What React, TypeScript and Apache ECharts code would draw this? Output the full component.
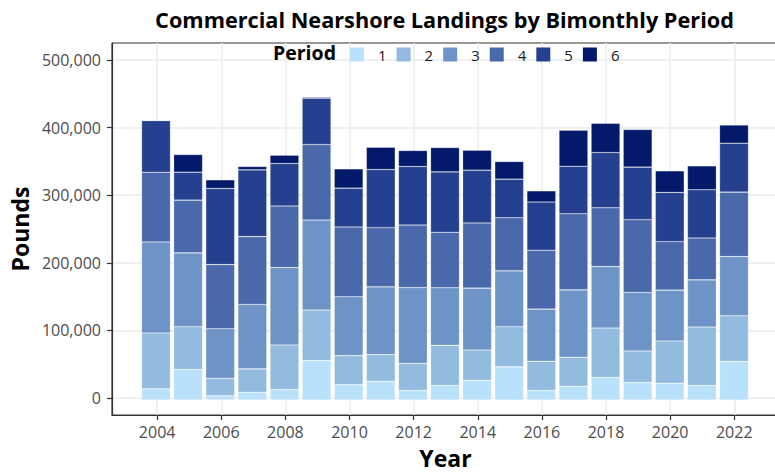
import React, { useEffect, useRef } from "react";
import * as echarts from "echarts";

const years = [2004, 2005, 2006, 2007, 2008, 2009, 2010, 2011, 2012, 2013, 2014, 2015, 2016, 2017, 2018, 2019, 2020, 2021, 2022];
const periods = ["1", "2", "3", "4", "5", "6"];
const period1 = [16.4, 44.7, 6.2, 11.4, 15.4, 57.9, 22.7, 27.6, 13.9, 21.3, 29.0, 48.7, 13.9, 20.2, 33.0, 25.7, 24.6, 21.3, 56.5];
const period2 = [82.1, 63.1, 25.8, 34.3, 65.5, 74.4, 42.6, 39.1, 40.1, 59.1, 44.6, 59.1, 43.0, 42.6, 72.9, 46.4, 62.2, 86.0, 67.4];
const period3 = [133.9, 108.5, 72.8, 94.8, 113.8, 132.4, 86.5, 99.7, 111.4, 84.6, 90.9, 82.1, 76.8, 99.2, 90.3, 86.0, 74.8, 69.4, 87.0];
const period4 = [102.6, 77.7, 94.3, 99.7, 90.5, 111.0, 102.6, 87.0, 91.9, 81.6, 95.8, 78.1, 86.5, 111.9, 86.5, 107.0, 71.2, 61.6, 94.8];
const period5 = [75.9, 41.0, 112.0, 98.2, 62.6, 68.3, 57.2, 85.6, 86.1, 88.9, 77.7, 56.8, 70.9, 69.9, 81.2, 77.3, 72.5, 70.8, 71.9];
const period6 = [1.0, 26.0, 12.7, 5.0, 12.2, 1.5, 28.3, 32.7, 23.5, 35.8, 29.3, 25.9, 16.5, 52.8, 43.0, 55.3, 31.7, 35.2, 26.8];
const periodValues = [period1, period2, period3, period4, period5, period6];
const colors = ["#BAE1FC", "#93BBE0", "#6E93C7", "#4A69AA", "#24408E", "#03196A"];
const xTicks = [2004, 2006, 2008, 2010, 2012, 2014, 2016, 2018, 2020, 2022];
const yTicks = [0, 100000, 200000, 300000, 400000, 500000];

const FONT = "'Open Sans', 'DejaVu Sans', sans-serif";

export default function App() {
  const ref = useRef<HTMLDivElement>(null);
  useEffect(() => {
    if (!ref.current) return;
    const chart = echarts.init(ref.current, null, { renderer: "svg" });
    const series = periods.map((p, i) => ({
      name: p,
      type: "bar",
      stack: "total",
      xAxisIndex: 1,
      yAxisIndex: 1,
      barWidth: "90%",
      data: periodValues[i].map((v) => Math.round(v * 1000)),
      itemStyle: { color: colors[i], borderColor: "rgba(255,255,255,0.35)", borderWidth: 0.6 },
      emphasis: { disabled: true },
    }));
    const yRange = { min: -25000, max: 525000 };
    chart.setOption({
      animation: false,
      textStyle: { fontFamily: FONT },
      title: {
        text: "Commercial Nearshore Landings by Bimonthly Period",
        left: 439.5,
        textAlign: "center",
        top: 3,
        textStyle: { fontFamily: FONT, fontSize: 21.7, fontWeight: "bold", color: "#000" },
      },
      graphic: [
        {
          type: "text",
          left: 273,
          top: 42,
          style: { text: "Period", fontFamily: FONT, fontSize: 19.5, fontWeight: "bold", fill: "#000" },
          z: 10,
        },
      ],
      legend: {
        left: 350,
        top: 47,
        padding: 0,
        itemWidth: 14,
        itemHeight: 14,
        itemGap: 10,
        icon: "rect",
        data: periods,
        selectedMode: false,
        textStyle: { fontFamily: FONT, fontSize: 15, color: "#1A1A1A", padding: [0, 0, 0, 9] },
        itemStyle: { borderWidth: 0 },
      },
      grid: [
        { left: 110.5, right: 0, top: 43, bottom: 57, show: true, borderColor: "#333", borderWidth: 1, backgroundColor: "transparent" },
        { left: 139.945, right: 28.945, top: 43, bottom: 57 },
      ],
      xAxis: [
        {
          type: "value",
          gridIndex: 0,
          min: 2002.59,
          max: 2023.395,
          name: "Year",
          nameLocation: "middle",
          nameGap: 31,
          nameTextStyle: { fontFamily: FONT, fontSize: 23, fontWeight: "bold", color: "#000" },
          axisLine: { show: true, onZero: false, lineStyle: { color: "#333", width: 1.2 } },
          axisTick: { show: true, length: 5, customValues: xTicks, lineStyle: { color: "#333", width: 1.2 } },
          axisLabel: { customValues: xTicks, margin: 9, fontFamily: FONT, fontSize: 16, color: "#4D4D4D", formatter: (v: number) => String(v) },
          splitLine: { show: true, lineStyle: { color: "#EBEBEB", width: 1.5 } },
        },
        {
          type: "category",
          gridIndex: 1,
          data: years.map(String),
          boundaryGap: true,
          show: false,
        },
      ],
      yAxis: [
        {
          type: "value",
          gridIndex: 0,
          ...yRange,
          name: "Pounds",
          nameLocation: "middle",
          nameGap: 78,
          nameTextStyle: { fontFamily: FONT, fontSize: 23, fontWeight: "bold", color: "#000" },
          axisLine: { show: true, onZero: false, lineStyle: { color: "#333", width: 1.2 } },
          axisTick: { show: true, length: 5, customValues: yTicks, lineStyle: { color: "#333", width: 1.2 } },
          axisLabel: {
            customValues: yTicks,
            margin: 11,
            fontFamily: FONT,
            fontSize: 16,
            color: "#4D4D4D",
            formatter: (v: number) => v.toLocaleString("en-US"),
          },
          splitLine: { show: true, lineStyle: { color: "#EBEBEB", width: 1.5 } },
        },
        {
          type: "value",
          gridIndex: 1,
          ...yRange,
          show: false,
          splitLine: { show: false },
        },
      ],
      series,
    });
    return () => chart.dispose();
  }, []);
  return <div ref={ref} style={{ position: "fixed", left: 0, top: 0, width: 779, height: 474, background: "#fff" }} />;
}
